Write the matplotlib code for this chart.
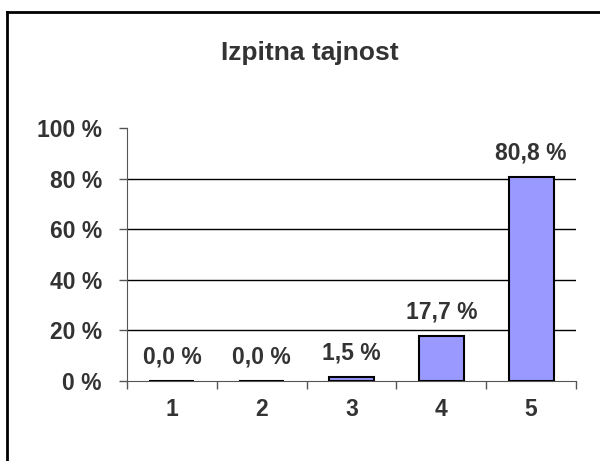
import matplotlib
matplotlib.use('Agg')
import matplotlib.pyplot as plt
from matplotlib.lines import Line2D

plt.rcParams['font.family'] = ['Liberation Sans', 'DejaVu Sans']

# podatki
ocene = ['1', '2', '3', '4', '5']
delezi = [0.0, 0.0, 1.5, 17.7, 80.8]
y_ticks = [0, 20, 40, 60, 80, 100]
naslov = 'Izpitna tajnost'

siva = '#333333'
fs = 16.5

fig = plt.figure(figsize=(6, 4.61), dpi=100)
ax = fig.add_axes([127/600, 1-381/461, (576-127)/600, (381-128)/461])

x = list(range(1, len(ocene)+1))
ax.bar(x, delezi, width=0.5, color='#9999FF', edgecolor='black', linewidth=1.5, zorder=3)

for xi, v in zip(x, delezi):
    ax.annotate(('%.1f %%' % v).replace('.', ','), (xi, v), xytext=(0, 9),
                textcoords='offset points', ha='center', va='bottom',
                fontsize=fs, fontweight='bold', color=siva)

ax.set_xlim(0.5, len(ocene)+0.5)
ax.set_ylim(0, 100)
ax.set_yticks(y_ticks)
ax.set_yticklabels(['%d %%' % t for t in y_ticks], fontsize=fs, fontweight='bold', color=siva)
for t in y_ticks[1:-1]:
    ax.axhline(t, color='black', linewidth=1, zorder=1)

ax.set_xticks([i + 0.5 for i in range(len(ocene)+1)])
ax.set_xticklabels([])
ax.set_xticks(x, minor=True)
ax.set_xticklabels(ocene, minor=True, fontsize=fs, fontweight='bold', color=siva)
ax.tick_params(axis='x', which='minor', length=0, pad=12)
ax.tick_params(axis='x', which='major', length=6, width=1, direction='out', color='#555555')
ax.tick_params(axis='y', length=6, width=1, direction='out', pad=12, color='#555555')

ax.spines['top'].set_visible(False)
ax.spines['right'].set_visible(False)
ax.spines['left'].set_color('#555555')
ax.spines['bottom'].set_color('#555555')

fig.text(310/600, 1-53/461, naslov, ha='center', va='center', fontsize=19,
         fontweight='bold', color=siva)

# okvir
fig.add_artist(Line2D([7/600, 1], [1-12/461, 1-12/461], color='black', linewidth=2, transform=fig.transFigure))
fig.add_artist(Line2D([7/600, 7/600], [1-12/461, 0], color='black', linewidth=2, transform=fig.transFigure))

fig.savefig('out.png', dpi=100)
